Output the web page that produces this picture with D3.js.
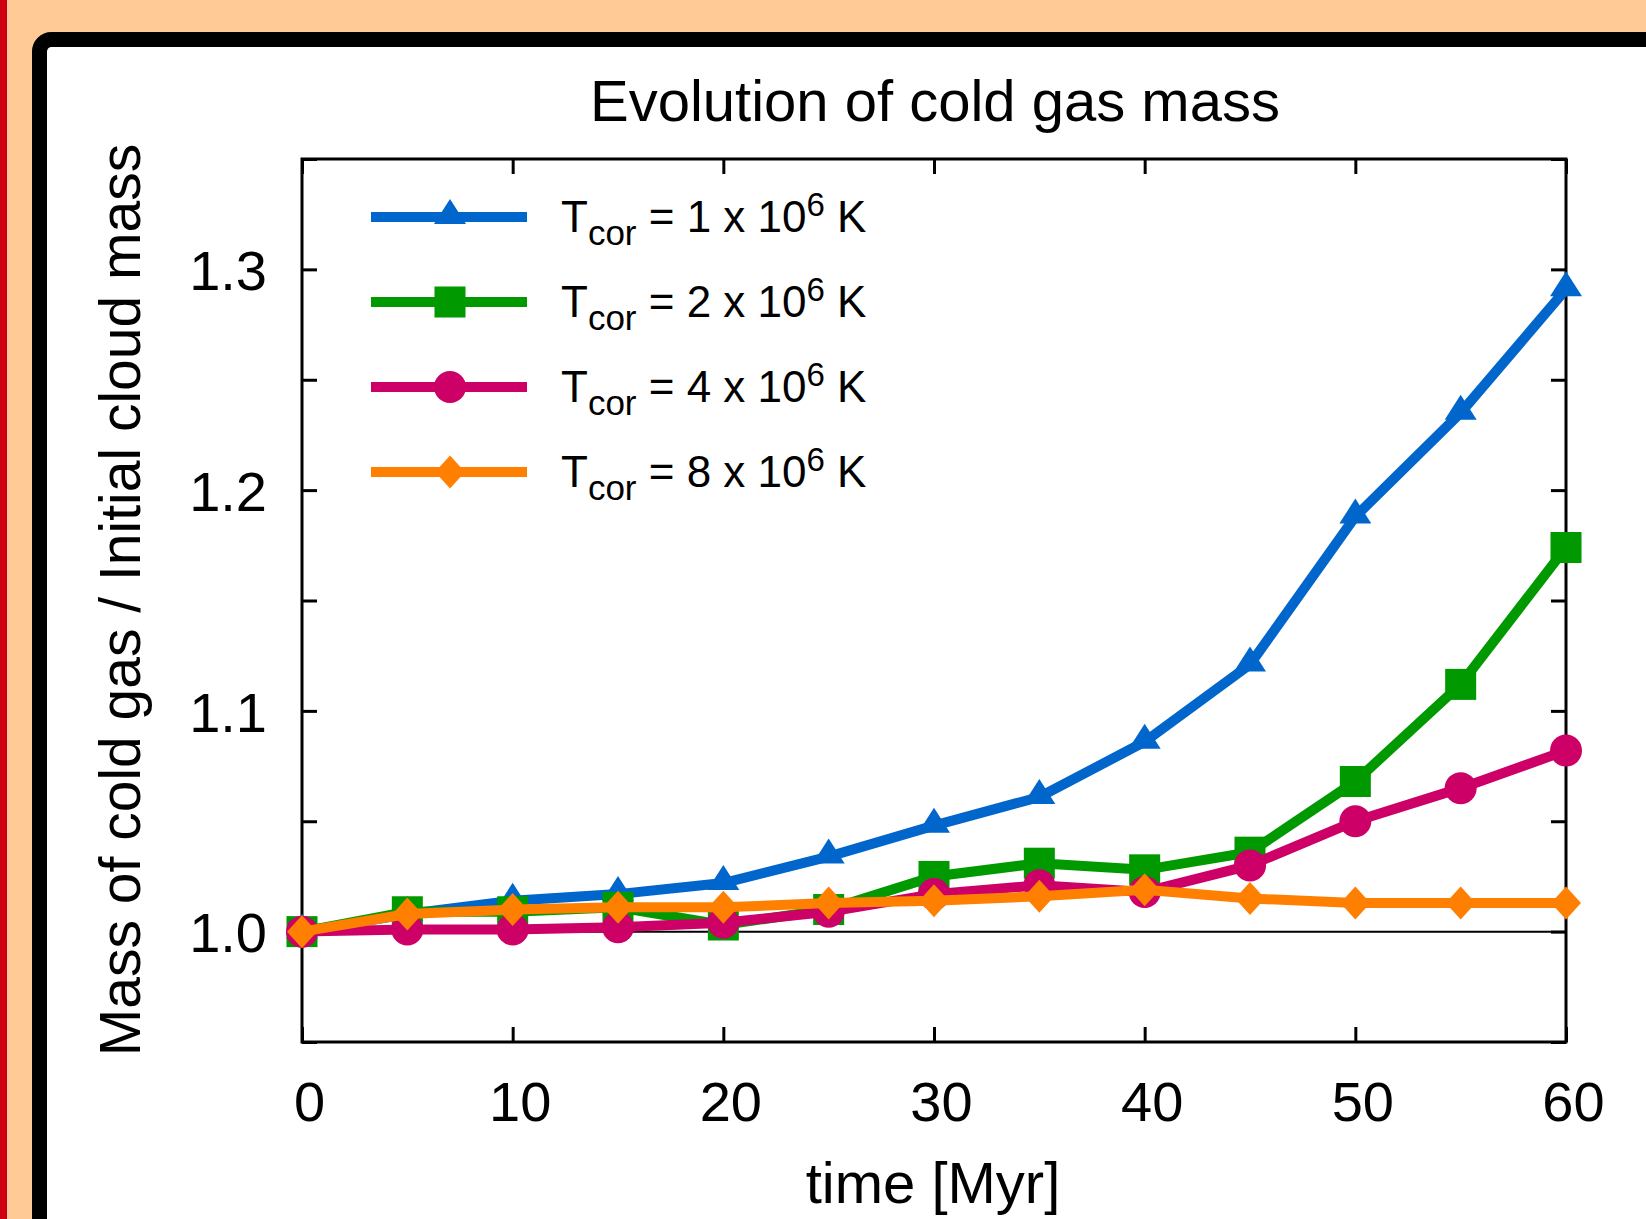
<!DOCTYPE html>
<html>
<head>
<meta charset="utf-8">
<script src="https://cdn.jsdelivr.net/npm/d3@7"></script>
<style>
  body { margin: 0; background: #ffca96; overflow: hidden; }
  text { font-family: "Liberation Sans", Arial, sans-serif; fill: #000; }
</style>
</head>
<body>
<div id="chart"></div>
<script>
// time [Myr]
const times = [0, 5, 10, 15, 20, 25, 30, 35, 40, 45, 50, 55, 60];

// cold gas mass / initial cloud mass, one array per corona temperature
const tcor1 = [1.000, 1.008, 1.014, 1.017, 1.022, 1.034, 1.048, 1.061, 1.086, 1.121, 1.188, 1.235, 1.291];
const tcor2 = [1.000, 1.009, 1.009, 1.011, 1.003, 1.010, 1.025, 1.031, 1.028, 1.036, 1.068, 1.112, 1.174];
const tcor4 = [1.000, 1.001, 1.001, 1.002, 1.004, 1.009, 1.017, 1.021, 1.018, 1.030, 1.050, 1.065, 1.082];
const tcor8 = [1.000, 1.008, 1.010, 1.011, 1.011, 1.013, 1.014, 1.016, 1.019, 1.015, 1.013, 1.013, 1.013];

const seriesNames = ["1", "2", "4", "8"];
const seriesColors = ["#0066cc", "#009900", "#cc0066", "#ff8000"];
const seriesShapes = ["triangle", "square", "circle", "diamond"];

const xTicks = [0, 10, 20, 30, 40, 50, 60];
const yTicks = [0.95, 1.0, 1.05, 1.1, 1.15, 1.2, 1.25, 1.3, 1.35];
const yLabelTicks = [1.0, 1.1, 1.2, 1.3];

class MassChart {
  constructor(_config, _series) {
    this.config = {
      parentElement: _config.parentElement,
      width: 1646,
      height: 1219,
      margin: { top: 159, right: 80, bottom: 177, left: 302 }
    };
    this.series = _series;
    this.initVis();
  }

  initVis() {
    let vis = this;

    vis.width = vis.config.width - vis.config.margin.left - vis.config.margin.right;
    vis.height = vis.config.height - vis.config.margin.top - vis.config.margin.bottom;

    vis.root = d3.select(vis.config.parentElement)
      .append("svg")
      .attr("width", vis.config.width)
      .attr("height", vis.config.height);

    // page decoration: red strip and the black rounded card
    vis.root.append("rect")
      .attr("x", 0).attr("y", 0)
      .attr("width", 7).attr("height", vis.config.height)
      .attr("fill", "#cc0011");

    vis.root.append("rect")
      .attr("x", 39.5).attr("y", 39.5)
      .attr("width", 1800).attr("height", 1400)
      .attr("rx", 12)
      .attr("fill", "#fff")
      .attr("stroke", "#000")
      .attr("stroke-width", 15);

    vis.svg = vis.root.append("g")
      .attr("transform", `translate(${vis.config.margin.left},${vis.config.margin.top})`);

    vis.xScale = d3.scaleLinear().domain([0, 60]).range([0, vis.width]);
    vis.yScale = d3.scaleLinear().domain([0.95, 1.35]).range([vis.height, 0]);

    vis.renderAxes();
    vis.renderVis();
    vis.renderLegend();
  }

  renderAxes() {
    let vis = this;
    const fs = 58;
    const tickFs = 56;

    // bottom axis with labels
    let xAxis = d3.axisBottom(vis.xScale)
      .tickValues(xTicks)
      .tickSizeInner(-15).tickSizeOuter(0)
      .tickPadding(39)
      .tickFormat(d3.format("d"));
    let gx = vis.svg.append("g")
      .attr("transform", `translate(0,${vis.height})`)
      .call(xAxis);
    gx.selectAll("text").attr("dx", 7).style("font-size", tickFs + "px")
      .style("font-family", "Liberation Sans, Arial, sans-serif");

    // top mirror ticks
    vis.svg.append("g")
      .call(d3.axisTop(vis.xScale).tickValues(xTicks).tickSizeInner(-15).tickSizeOuter(0).tickFormat(""));

    // left axis
    let yAxis = d3.axisLeft(vis.yScale)
      .tickValues(yTicks)
      .tickSizeInner(-15).tickSizeOuter(0)
      .tickPadding(35)
      .tickFormat(d => yLabelTicks.some(v => Math.abs(v - d) < 1e-9) ? d3.format(".1f")(d) : "");
    let gy = vis.svg.append("g").call(yAxis);
    gy.selectAll("text").attr("dy", "0.36em").style("font-size", tickFs + "px")
      .style("font-family", "Liberation Sans, Arial, sans-serif");

    // right mirror ticks
    vis.svg.append("g")
      .attr("transform", `translate(${vis.width},0)`)
      .call(d3.axisRight(vis.yScale).tickValues(yTicks).tickSizeInner(-15).tickSizeOuter(0).tickFormat(""));

    vis.svg.selectAll(".domain").remove();
    vis.svg.selectAll(".tick line").attr("stroke", "#000").attr("stroke-width", 3);

    // reference line at 1.0
    vis.svg.append("line")
      .attr("x1", 0).attr("x2", vis.width)
      .attr("y1", vis.yScale(1.0)).attr("y2", vis.yScale(1.0))
      .attr("stroke", "#000").attr("stroke-width", 2);

    // plot frame
    vis.svg.append("rect")
      .attr("width", vis.width).attr("height", vis.height)
      .attr("fill", "none").attr("stroke", "#000").attr("stroke-width", 3);

    // titles
    vis.root.append("text")
      .attr("x", 935).attr("y", 121)
      .attr("text-anchor", "middle")
      .style("font-size", fs + "px")
      .text("Evolution of cold gas mass");

    vis.root.append("text")
      .attr("x", 933).attr("y", 1203)
      .attr("text-anchor", "middle")
      .style("font-size", fs + "px")
      .text("time [Myr]");

    vis.root.append("text")
      .attr("transform", "translate(140,600) rotate(-90)")
      .attr("text-anchor", "middle")
      .style("font-size", "57px")
      .text("Mass of cold gas / Initial cloud mass");
  }

  marker(sel, shape, color) {
    if (shape === "triangle") {
      sel.append("path").attr("d", "M0,-18L16,7L-16,7Z").attr("fill", color);
    } else if (shape === "square") {
      sel.append("rect").attr("x", -15.5).attr("y", -15.5)
        .attr("width", 31).attr("height", 31).attr("fill", color);
    } else if (shape === "circle") {
      sel.append("circle").attr("r", 16).attr("fill", color);
    } else {
      sel.append("path").attr("d", "M0,-16.5L15,0L0,16.5L-15,0Z").attr("fill", color);
    }
  }

  renderVis() {
    let vis = this;

    let line = d3.line()
      .x(d => vis.xScale(d.t))
      .y(d => vis.yScale(d.v));

    vis.series.forEach(s => {
      let pts = times.map((t, i) => ({ t: t, v: s.values[i] }));
      let g = vis.svg.append("g");

      g.append("path")
        .datum(pts)
        .attr("fill", "none")
        .attr("stroke", s.color)
        .attr("stroke-width", 10)
        .attr("stroke-linejoin", "miter")
        .attr("d", line);

      g.selectAll(".pt")
        .data(pts)
        .enter()
        .append("g")
        .attr("class", "pt")
        .attr("transform", d => `translate(${vis.xScale(d.t)},${vis.yScale(d.v)})`)
        .each(function () { vis.marker(d3.select(this), s.shape, s.color); });
    });
  }

  renderLegend() {
    let vis = this;

    let leg = vis.root.append("g");
    vis.series.forEach((s, i) => {
      let y = 217 + i * 85;
      let row = leg.append("g");
      row.append("line")
        .attr("x1", 371).attr("x2", 527)
        .attr("y1", y).attr("y2", y)
        .attr("stroke", s.color).attr("stroke-width", 10);
      let m = row.append("g").attr("transform", `translate(450,${y})`);
      vis.marker(m, s.shape, s.color);

      let t = row.append("text")
        .attr("x", 561).attr("y", y + 14.5)
        .style("font-size", "44px");
      t.append("tspan").text("T");
      t.append("tspan").attr("dy", 13).style("font-size", "35px").text("cor");
      t.append("tspan").attr("dy", -13).text(` = ${s.name} x 10`);
      t.append("tspan").attr("dy", -16).style("font-size", "33px").text("6");
      t.append("tspan").attr("dy", 16).text(" K");
    });
  }
}

const allSeries = [tcor1, tcor2, tcor4, tcor8].map((vals, i) => ({
  name: seriesNames[i],
  color: seriesColors[i],
  shape: seriesShapes[i],
  values: vals
}));

new MassChart({ parentElement: "#chart" }, allSeries);
</script>
</body>
</html>
